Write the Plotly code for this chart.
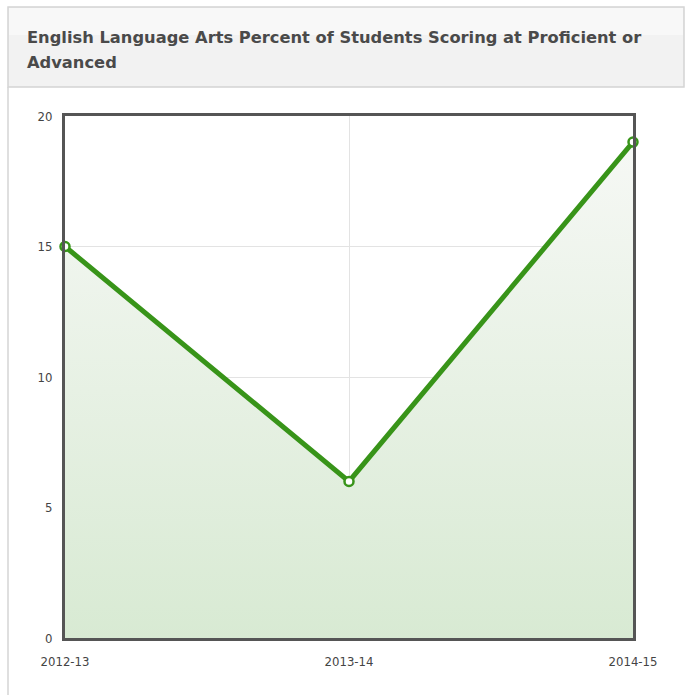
import plotly.graph_objects as go

# School years and ELA proficiency percentages
years = ["2012-13", "2013-14", "2014-15"]
pct_proficient = [15, 6, 19]
y_ticks = [0, 5, 10, 15, 20]
title_lines = ["English Language Arts Percent of Students Scoring at Proficient or",
               "Advanced"]

W, H = 685, 695
# plot area in pixels
x0, x1 = 65, 633
y_top, y_bot = 116, 638
PW, PH = x1 - x0, y_bot - y_top


def px(x):
    """page x pixel -> paper coordinate"""
    return (x - x0) / PW


def py(y):
    """page y pixel -> paper coordinate"""
    return (y_bot - y) / PH


fig = go.Figure()
fig.add_trace(go.Scatter(
    x=years, y=pct_proficient,
    mode="lines+markers",
    line=dict(color="#389419", width=5),
    marker=dict(size=9, color="white", line=dict(color="#389419", width=2.5)),
    fill="tozeroy",
    fillgradient=dict(type="vertical",
                      colorscale=[[0, "#d8ead3"], [1, "#f6f8f5"]]),
    cliponaxis=False,
    hoverinfo="x+y",
))

axis_common = dict(
    showgrid=True, gridcolor="#e3e3e3", gridwidth=1,
    showline=True, linecolor="#555", linewidth=3, mirror=True,
    ticks="", zeroline=False, automargin=False,
    tickfont=dict(family="DejaVu Sans Condensed, DejaVu Sans", size=13, color="#444"),
)

fig.update_layout(
    width=W, height=H,
    margin=dict(l=x0, r=W - x1, t=y_top, b=H - y_bot, autoexpand=False),
    paper_bgcolor="white",
    plot_bgcolor="white",
    showlegend=False,
    xaxis=dict(type="category", range=[0, 2], ticklabelstandoff=9, **axis_common),
    yaxis=dict(range=[0, 20], tickvals=y_ticks, ticklabelstandoff=7, **axis_common),
)

# Panel header box with a soft top highlight
fig.add_shape(type="rect", xref="paper", yref="paper",
              x0=px(8), x1=px(684), y0=py(87), y1=py(7),
              fillcolor="#f2f2f2", line=dict(color="#d4d4d4", width=1.5),
              layer="below")
fig.add_shape(type="rect", xref="paper", yref="paper",
              x0=px(9), x1=px(683), y0=py(35), y1=py(8),
              fillcolor="#f8f8f8", line=dict(width=0), layer="below")
# Panel left border below header
fig.add_shape(type="line", xref="paper", yref="paper",
              x0=px(8), x1=px(8), y0=py(H), y1=py(87),
              line=dict(color="#d4d4d4", width=1.5), layer="below")

for i, line in enumerate(title_lines):
    fig.add_annotation(
        xref="paper", yref="paper", x=px(25), y=py(26 + 25 * i),
        xanchor="left", yanchor="top", align="left", showarrow=False,
        text="<b>" + line + "</b>",
        font=dict(family="DejaVu Sans, Verdana", size=16.3, color="#4a4a4a"),
    )

fig.write_html("out.html")
